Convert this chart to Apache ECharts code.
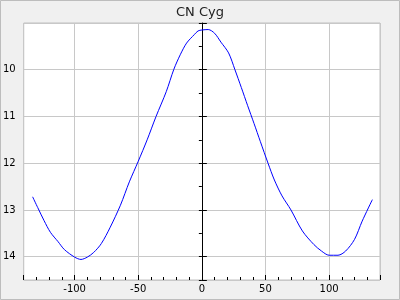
<!DOCTYPE html>
<html><head><meta charset="utf-8">
<script src="https://cdn.jsdelivr.net/npm/echarts@6/dist/echarts.min.js"></script>
<style>html,body{margin:0;padding:0;background:#f0f0f0}#c{width:400px;height:300px}</style>
</head><body><div id="c"></div>
<script>
const title = 'CN Cyg';
const phase = [-133,-129,-124,-119,-113,-108,-100,-95,-90,-85,-79,-72,-64,-57,-50,-43,-36,-28,-22,-17,-12,-6,-3,0,5,10,15,21,26,31,36,41,46,52,57,63,70,79,88,94,100,107,113,120,126,134];
const mag = [12.72,12.95,13.23,13.48,13.68,13.85,14.01,14.06,14.01,13.91,13.72,13.37,12.90,12.40,11.96,11.50,11.00,10.47,9.99,9.68,9.43,9.25,9.17,9.15,9.14,9.22,9.41,9.64,10.00,10.38,10.77,11.15,11.54,12.00,12.36,12.70,13.00,13.45,13.74,13.88,13.97,13.97,13.88,13.63,13.24,12.78];
const xMin = -140, xMax = 140;
const yMin = 9, yMax = 14.5;

const font = 'DejaVu Sans';
const chart = echarts.init(document.getElementById('c'), null, {renderer:'canvas'});
chart.setOption({
  animation: false,
  backgroundColor: '#f0f0f0',
  title: {text: title, left: 'center', top: 1, textStyle: {fontFamily: font, fontSize: 13, fontWeight: 'normal', color: '#222'}},
  graphic: [{type:'rect', shape:{x:0.5,y:0.5,width:399,height:299}, style:{fill:'none', stroke:'#bdbdbd', lineWidth:1}, silent:true}],
  grid: {left: 20, right: 20, top: 23, bottom: 20, show: true, backgroundColor: '#fff', borderColor: '#c0c0c0', borderWidth: 1},
  xAxis: [
    {type:'value', min:xMin, max:xMax, position:'bottom',
     axisLine:{show:false, onZero:false},
     axisTick:{show:true, inside:true, length:5, lineStyle:{color:'#000'}},
     splitLine:{show:true, lineStyle:{color:'#c8c8c8', width:1}},
     axisLabel:{show:true, margin:4, fontFamily:font, fontSize:10, color:'#000',
       formatter: v => (v % 50 === 0 ? String(v) : '')}},
    {type:'value', min:xMin, max:xMax, interval:10, position:'bottom',
     axisLine:{show:false, onZero:false},
     axisTick:{show:true, inside:true, length:3, lineStyle:{color:'#000'}},
     splitLine:{show:false}, axisLabel:{show:false}}
  ],
  yAxis: [
    {type:'value', inverse:true, min:yMin, max:yMax, interval:1,
     axisLine:{show:true, onZero:true, lineStyle:{color:'#000', width:1}},
     axisTick:{show:true, inside:true, length:5, lineStyle:{color:'#000'}},
     splitLine:{show:true, lineStyle:{color:'#c8c8c8', width:1}},
     axisLabel:{show:true, margin:8, fontFamily:font, fontSize:10, color:'#000',
       formatter: v => (v >= 10 && v <= 14 && Number.isInteger(v) ? String(v) : '')}},
    {type:'value', inverse:true, min:yMin, max:yMax, interval:0.5,
     axisLine:{show:false, onZero:true},
     axisTick:{show:true, inside:true, length:3, lineStyle:{color:'#000'}},
     splitLine:{show:false}, axisLabel:{show:false}}
  ],
  series: [{type:'line', xAxisIndex:0, yAxisIndex:0, showSymbol:false, symbol:'none', smooth:0.3,
    lineStyle:{color:'#0000ff', width:1}, data: phase.map((p,i)=>[p, mag[i]])}]
});
</script></body></html>
